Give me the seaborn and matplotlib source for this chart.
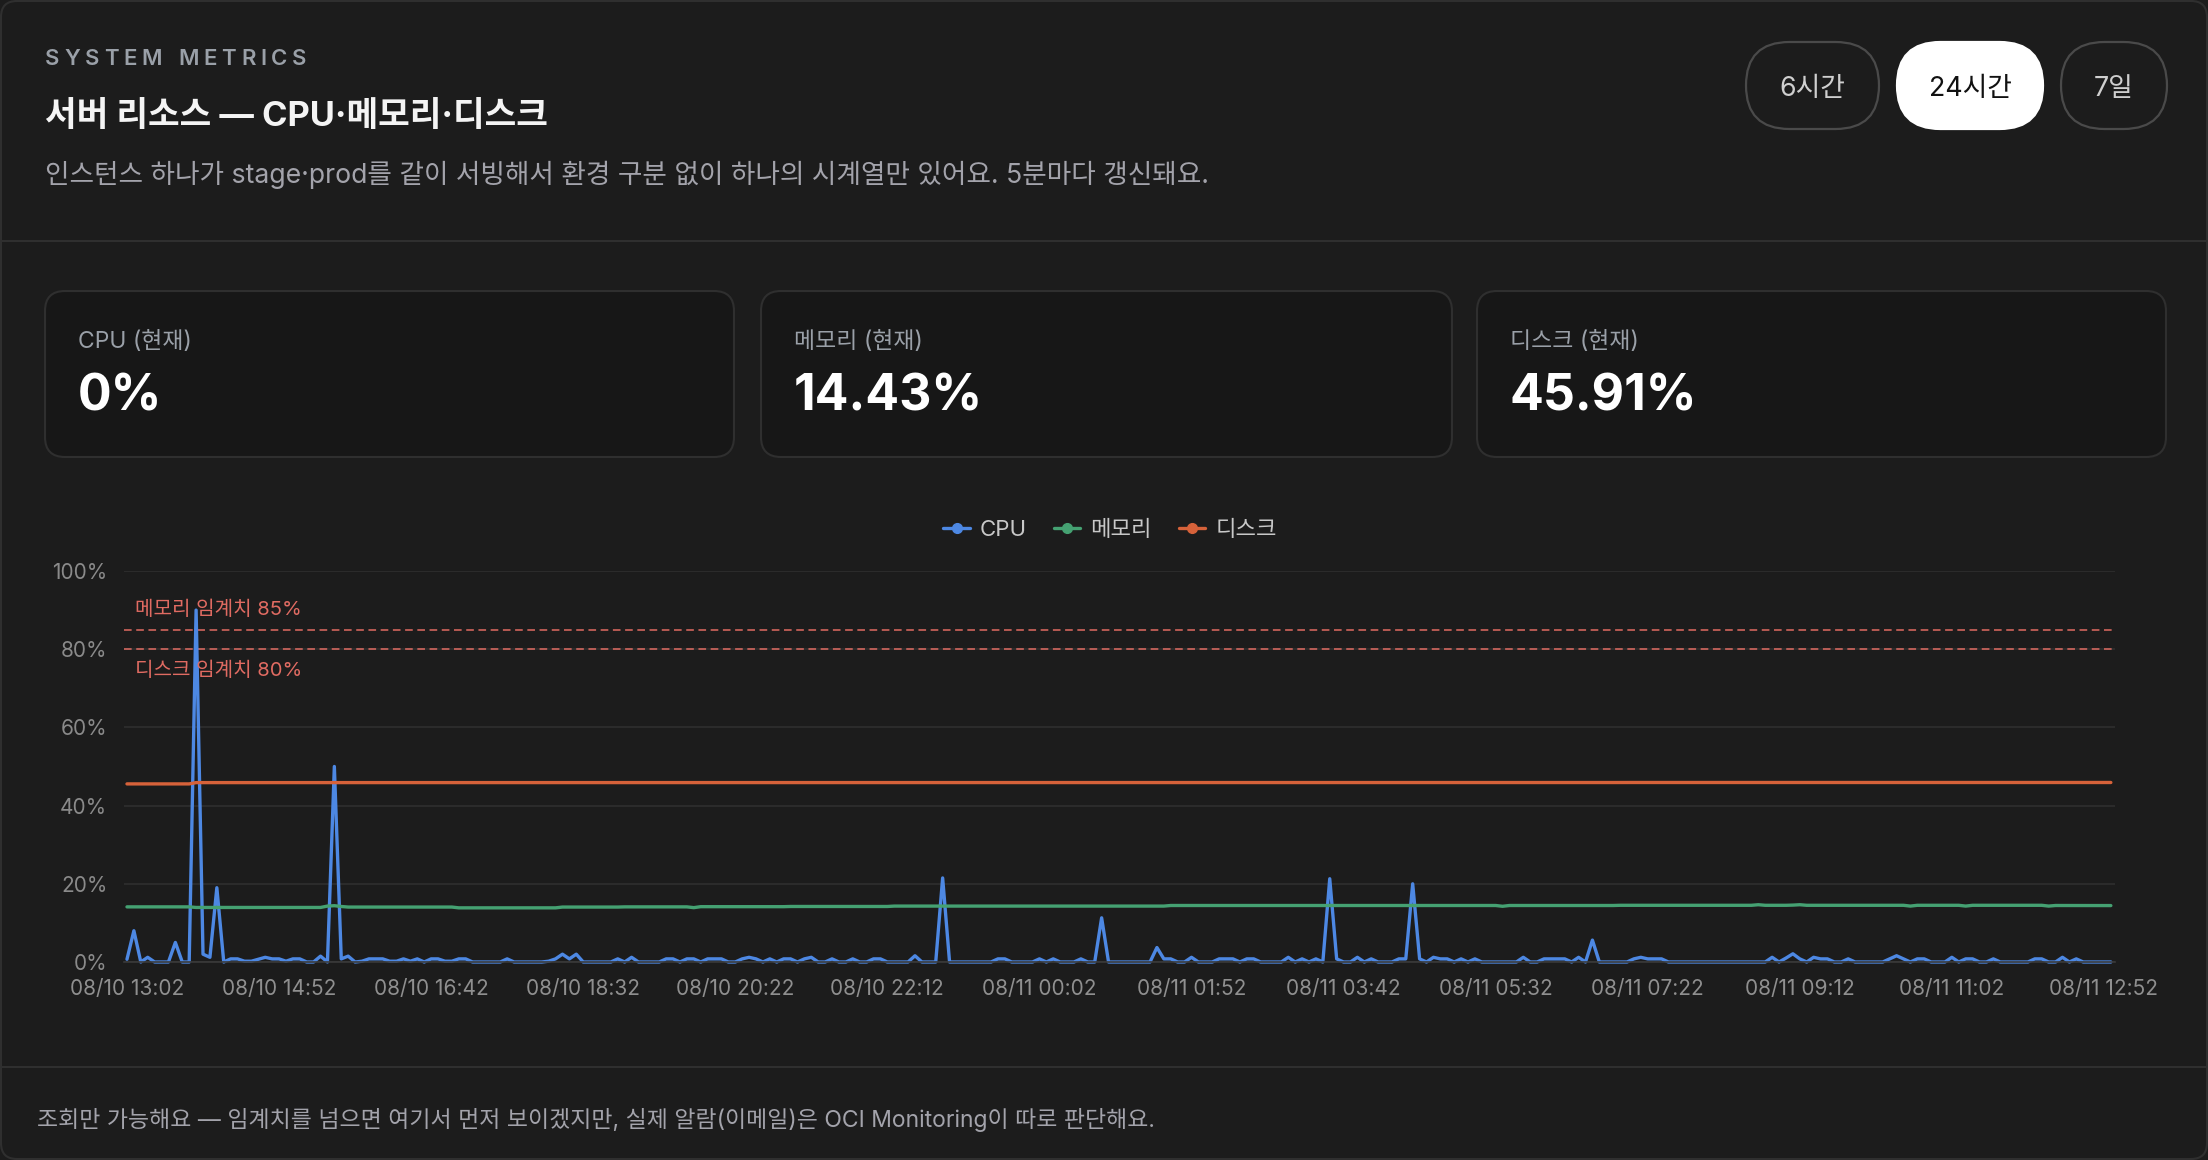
import matplotlib
matplotlib.use("Agg")
import matplotlib.pyplot as plt
from matplotlib.patches import FancyBboxPatch
from matplotlib.lines import Line2D
import pandas as pd
import seaborn as sns

W, H = 2208, 1160
BG = "#1c1c1c"
CARD_BG = "#171717"
EDGE = "#2f2f2f"

SERIES = ["CPU", "메모리", "디스크"]
COLORS = {"CPU": "#4d88e3", "메모리": "#45a172", "디스크": "#d6623a"}

X_TICKS = [0, 22, 44, 66, 88, 110, 132, 154, 176, 198, 220, 242, 264, 286]
X_LABELS = ["08/10 13:02", "08/10 14:52", "08/10 16:42", "08/10 18:32", "08/10 20:22",
            "08/10 22:12", "08/11 00:02", "08/11 01:52", "08/11 03:42", "08/11 05:32",
            "08/11 07:22", "08/11 09:12", "08/11 11:02", "08/11 12:52"]
Y_TICKS = [0, 20, 40, 60, 80, 100]
Y_LABELS = ["0%", "20%", "40%", "60%", "80%", "100%"]

THRESHOLDS = [85, 80]
THRESHOLD_LABELS = ["메모리 임계치 85%", "디스크 임계치 80%"]

CARD_LABELS = ["CPU (현재)", "메모리 (현재)", "디스크 (현재)"]
CARD_VALUES = ["0%", "14.43%", "45.91%"]
RANGES = ["6시간", "24시간", "7일"]

# 5-minute samples, 08/10 13:02 -> 08/11 12:57
cpu = [
    0.7, 8.0, 0, 1.2, 0, 0, 0, 5.0, 0, 0, 90, 2.0,
    1.2, 19.0, 0, 0.8, 0.8, 0.2, 0.2, 0.7, 1.2, 0.8, 0.8, 0.2,
    0.8, 0.8, 0, 0, 1.5, 0, 50, 0.8, 1.5, 0, 0.2, 0.8,
    0.8, 0.8, 0.2, 0.2, 0.8, 0.2, 0.8, 0, 0.8, 0.8, 0.2, 0.2,
    0.8, 0.8, 0, 0, 0, 0, 0, 0.8, 0, 0, 0, 0,
    0, 0.2, 0.8, 2.0, 0.8, 2.0, 0, 0, 0, 0, 0, 0.8,
    0, 1.2, 0, 0, 0, 0, 0.8, 0.8, 0, 0.8, 0.8, 0,
    0.8, 0.8, 0.8, 0, 0, 0.8, 1.2, 0.8, 0, 0.8, 0, 0.8,
    0.8, 0, 0.8, 1.2, 0, 0, 0.8, 0, 0, 0.8, 0, 0,
    0.8, 0.8, 0, 0, 0, 0, 1.6, 0, 0, 0, 21.5, 0,
    0, 0, 0, 0, 0, 0, 0.8, 0.8, 0, 0, 0, 0,
    0.8, 0, 0.8, 0, 0, 0, 0.8, 0, 0, 11.3, 0, 0,
    0, 0, 0, 0, 0, 3.7, 0.8, 0.8, 0, 0, 1.2, 0,
    0, 0, 0.8, 0.8, 0.8, 0, 0.8, 0.8, 0, 0, 0, 0,
    1.2, 0, 0.8, 0, 0.8, 0, 21.3, 0.8, 0, 0, 1.2, 0,
    0.8, 0, 0, 0, 0.8, 0.8, 20.0, 0.8, 0, 1.2, 0.8, 0.8,
    0, 0.8, 0, 0.8, 0, 0, 0, 0, 0, 0, 1.2, 0,
    0, 0.8, 0.8, 0.8, 0.8, 0, 1.2, 0, 5.6, 0, 0, 0,
    0, 0, 0.8, 1.2, 0.8, 0.8, 0.8, 0, 0, 0, 0, 0,
    0, 0, 0, 0, 0, 0, 0, 0, 0, 0, 1.2, 0,
    1.0, 2.1, 0.8, 0, 1.2, 0.8, 0.8, 0, 0, 0.8, 0, 0,
    0, 0, 0, 0.8, 1.6, 0.8, 0, 0.8, 0.8, 0, 0, 0,
    1.2, 0, 0.8, 0.8, 0, 0, 0.8, 0, 0, 0, 0, 0,
    0.8, 0.8, 0, 0, 1.2, 0, 0.8, 0, 0, 0, 0, 0,
]

memory = [
    14.1, 14.1, 14.1, 14.1, 14.1, 14.1, 14.1, 14.1, 14.1, 14.1, 13.95, 13.95,
    13.95, 13.95, 13.95, 13.95, 13.95, 13.95, 13.95, 13.95, 13.95, 13.95, 13.95, 13.95,
    13.95, 13.95, 13.95, 13.95, 13.95, 14.3, 14.4, 14.2, 14.05, 14.05, 14.05, 14.05,
    14.05, 14.05, 14.05, 14.05, 14.05, 14.05, 14.05, 14.05, 14.05, 14.05, 14.05, 14.05,
    13.85, 13.85, 13.85, 13.85, 13.85, 13.85, 13.85, 13.85, 13.85, 13.85, 13.85, 13.85,
    13.85, 13.85, 13.85, 14.05, 14.05, 14.05, 14.05, 14.05, 14.05, 14.05, 14.05, 14.05,
    14.1, 14.1, 14.1, 14.1, 14.1, 14.1, 14.1, 14.1, 14.1, 14.1, 13.9, 14.15,
    14.15, 14.15, 14.15, 14.15, 14.15, 14.15, 14.15, 14.15, 14.15, 14.15, 14.15, 14.15,
    14.2, 14.2, 14.2, 14.2, 14.2, 14.2, 14.2, 14.2, 14.2, 14.2, 14.2, 14.2,
    14.2, 14.2, 14.2, 14.3, 14.3, 14.3, 14.3, 14.3, 14.3, 14.3, 14.3, 14.3,
    14.3, 14.3, 14.3, 14.3, 14.3, 14.3, 14.3, 14.3, 14.3, 14.3, 14.3, 14.3,
    14.3, 14.3, 14.3, 14.3, 14.3, 14.3, 14.3, 14.3, 14.3, 14.3, 14.3, 14.3,
    14.3, 14.3, 14.3, 14.3, 14.3, 14.3, 14.3, 14.45, 14.45, 14.45, 14.45, 14.45,
    14.45, 14.45, 14.45, 14.45, 14.45, 14.45, 14.45, 14.45, 14.45, 14.45, 14.45, 14.45,
    14.45, 14.45, 14.45, 14.45, 14.45, 14.45, 14.45, 14.45, 14.45, 14.45, 14.45, 14.45,
    14.45, 14.45, 14.45, 14.45, 14.45, 14.45, 14.45, 14.45, 14.45, 14.45, 14.45, 14.45,
    14.45, 14.45, 14.45, 14.45, 14.45, 14.45, 14.45, 14.25, 14.45, 14.45, 14.45, 14.45,
    14.45, 14.45, 14.45, 14.45, 14.45, 14.45, 14.45, 14.45, 14.45, 14.45, 14.45, 14.45,
    14.5, 14.5, 14.5, 14.5, 14.5, 14.5, 14.5, 14.5, 14.5, 14.5, 14.5, 14.5,
    14.5, 14.5, 14.5, 14.5, 14.5, 14.5, 14.5, 14.5, 14.65, 14.5, 14.5, 14.5,
    14.5, 14.55, 14.65, 14.5, 14.5, 14.5, 14.5, 14.5, 14.5, 14.5, 14.5, 14.5,
    14.5, 14.5, 14.5, 14.5, 14.5, 14.5, 14.3, 14.5, 14.5, 14.5, 14.5, 14.5,
    14.5, 14.5, 14.3, 14.5, 14.5, 14.5, 14.5, 14.5, 14.5, 14.5, 14.5, 14.5,
    14.5, 14.5, 14.3, 14.45, 14.45, 14.45, 14.45, 14.45, 14.45, 14.45, 14.45, 14.43,
]

disk = [
    45.55, 45.55, 45.55, 45.55, 45.55, 45.55, 45.55, 45.55, 45.55, 45.55, 45.88, 45.88,
    45.88, 45.88, 45.88, 45.88, 45.88, 45.88, 45.88, 45.88, 45.88, 45.88, 45.88, 45.88,
    45.88, 45.88, 45.88, 45.88, 45.88, 45.88, 45.88, 45.88, 45.88, 45.88, 45.88, 45.88,
    45.88, 45.88, 45.88, 45.88, 45.88, 45.88, 45.88, 45.88, 45.88, 45.88, 45.88, 45.88,
    45.88, 45.88, 45.88, 45.88, 45.88, 45.88, 45.88, 45.88, 45.88, 45.88, 45.88, 45.88,
    45.88, 45.88, 45.88, 45.88, 45.88, 45.88, 45.88, 45.88, 45.88, 45.88, 45.88, 45.88,
    45.88, 45.88, 45.88, 45.88, 45.88, 45.88, 45.88, 45.88, 45.88, 45.88, 45.88, 45.88,
    45.88, 45.88, 45.88, 45.88, 45.88, 45.88, 45.88, 45.88, 45.88, 45.88, 45.88, 45.88,
    45.89, 45.89, 45.89, 45.89, 45.89, 45.89, 45.89, 45.89, 45.89, 45.89, 45.89, 45.89,
    45.89, 45.89, 45.89, 45.89, 45.89, 45.89, 45.89, 45.89, 45.89, 45.89, 45.89, 45.89,
    45.89, 45.89, 45.89, 45.89, 45.89, 45.89, 45.89, 45.89, 45.89, 45.89, 45.89, 45.89,
    45.89, 45.89, 45.89, 45.89, 45.89, 45.89, 45.89, 45.89, 45.89, 45.89, 45.89, 45.89,
    45.9, 45.9, 45.9, 45.9, 45.9, 45.9, 45.9, 45.9, 45.9, 45.9, 45.9, 45.9,
    45.9, 45.9, 45.9, 45.9, 45.9, 45.9, 45.9, 45.9, 45.9, 45.9, 45.9, 45.9,
    45.9, 45.9, 45.9, 45.9, 45.9, 45.9, 45.9, 45.9, 45.9, 45.9, 45.9, 45.9,
    45.9, 45.9, 45.9, 45.9, 45.9, 45.9, 45.9, 45.9, 45.9, 45.9, 45.9, 45.9,
    45.9, 45.9, 45.9, 45.9, 45.9, 45.9, 45.9, 45.9, 45.9, 45.9, 45.9, 45.9,
    45.9, 45.9, 45.9, 45.9, 45.9, 45.9, 45.9, 45.9, 45.9, 45.9, 45.9, 45.9,
    45.91, 45.91, 45.91, 45.91, 45.91, 45.91, 45.91, 45.91, 45.91, 45.91, 45.91, 45.91,
    45.91, 45.91, 45.91, 45.91, 45.91, 45.91, 45.91, 45.91, 45.91, 45.91, 45.91, 45.91,
    45.91, 45.91, 45.91, 45.91, 45.91, 45.91, 45.91, 45.91, 45.91, 45.91, 45.91, 45.91,
    45.91, 45.91, 45.91, 45.91, 45.91, 45.91, 45.91, 45.91, 45.91, 45.91, 45.91, 45.91,
    45.91, 45.91, 45.91, 45.91, 45.91, 45.91, 45.91, 45.91, 45.91, 45.91, 45.91, 45.91,
    45.91, 45.91, 45.91, 45.91, 45.91, 45.91, 45.91, 45.91, 45.91, 45.91, 45.91, 45.91,
]

sns.set_theme(style="dark", rc={"axes.facecolor": BG, "figure.facecolor": BG})
plt.rcParams["font.family"] = ["Inter", "Noto Sans CJK KR", "DejaVu Sans"]


def spaced_text(ax, x, y, s, spacing, **kw):
    renderer = ax.figure.canvas.get_renderer()
    for ch in s:
        if ch == " ":
            x += kw["fontsize"] * 0.28 / 0.72 + spacing
            continue
        t = ax.text(x, y, ch, **kw)
        x += t.get_window_extent(renderer).width + spacing


def rounded(ax, x0, y0, x1, y1, r, **kw):
    ax.add_patch(FancyBboxPatch((x0, y0), x1 - x0, y1 - y0,
                                boxstyle=f"round,pad=0,rounding_size={r}", **kw))


fig = plt.figure(figsize=(W / 100, H / 100), dpi=100, facecolor=BG)

# page layer in pixel coordinates
bg = fig.add_axes([0, 0, 1, 1], zorder=0)
bg.set_xlim(0, W)
bg.set_ylim(H, 0)
bg.axis("off")

rounded(bg, 1, 1, W - 1, H - 1, 16, facecolor=BG, edgecolor=EDGE, lw=1.5)
bg.plot([1, W - 1], [241, 241], color=EDGE, lw=1.5)
bg.plot([1, W - 1], [1067, 1067], color=EDGE, lw=1.5)

spaced_text(bg, 45, 59, "SYSTEM METRICS", 4.8, fontsize=16, color="#9aa0a8",
            fontweight="semibold", va="center", ha="left")
bg.text(45, 117, "서버 리소스 — CPU·메모리·디스크", fontsize=24.8, fontweight="bold",
        color="#f4f4f4", va="center", ha="left")
bg.text(45, 175, "인스턴스 하나가 stage·prod를 같이 서빙해서 환경 구분 없이 하나의 시계열만 있어요. 5분마다 갱신돼요.",
        fontsize=19.2, color="#a3a3ab", va="center", ha="left")

# range buttons
buttons = [(1746, 1879), (1897, 2043), (2061, 2167)]
for (x0, x1), label in zip(buttons, RANGES):
    active = label == "24시간"
    rounded(bg, x0, 42, x1, 129, 43.5,
            facecolor="#ffffff" if active else "none",
            edgecolor="#ffffff" if active else "#4a4a4a", lw=1.6)
    bg.text((x0 + x1) / 2, 89, label, fontsize=19.3,
            color="#111111" if active else "#cfcfcf", ha="center", va="center")

# summary cards
cards = [(45, 734), (761, 1452), (1477, 2166)]
for (x0, x1), label, value in zip(cards, CARD_LABELS, CARD_VALUES):
    rounded(bg, x0, 291, x1, 457, 20, facecolor=CARD_BG, edgecolor=EDGE, lw=1.5)
    bg.text(x0 + 33, 342, label, fontsize=16.5, color="#9aa0a8", va="center", ha="left")
    bg.text(x0 + 33, 397, value, fontsize=36, fontweight="bold", color="#ffffff",
            va="center", ha="left")

bg.text(37, 1120, "조회만 가능해요 — 임계치를 넘으면 여기서 먼저 보이겠지만, 실제 알람(이메일)은 OCI Monitoring이 따로 판단해요.",
        fontsize=16.5, color="#a3a3ab", va="center", ha="left")

# chart
frames = []
for name, vals in zip(SERIES, [cpu, memory, disk]):
    frames.append(pd.DataFrame({"idx": range(len(vals)), "value": vals, "metric": name}))
df = pd.concat(frames, ignore_index=True)

ax = fig.add_axes([124 / W, 1 - 962 / H, (2115 - 124) / W, (962 - 571) / H], zorder=1)
ax.set_facecolor("none")
sns.lineplot(data=df, x="idx", y="value", hue="metric", hue_order=SERIES, palette=COLORS,
             estimator=None, linewidth=2.4, legend=False, ax=ax, clip_on=False)

for val, label, ly in zip(THRESHOLDS, THRESHOLD_LABELS, [90.0, 74.4]):
    ax.axhline(val, color="#e06b62", lw=1.1, dashes=(5, 3), zorder=1)
    ax.text(0.0055, ly, label, transform=ax.get_yaxis_transform(), fontsize=14.5,
            color="#e06b62", va="center", ha="left")

ax.set_xlim(-0.43, 287.6)
ax.set_ylim(0, 100)
ax.set_xticks(X_TICKS)
ax.set_xticklabels(X_LABELS)
ax.set_yticks(Y_TICKS)
ax.set_yticklabels(Y_LABELS)
ax.set_xlabel("")
ax.set_ylabel("")
ax.grid(False)
ax.yaxis.grid(True, color="#303030", lw=1.1, zorder=0)
for side in ["top", "right", "left"]:
    ax.spines[side].set_visible(False)
ax.spines["bottom"].set_color("#3a3a3a")
ax.spines["bottom"].set_linewidth(1.2)
ax.tick_params(axis="x", length=0, pad=12, labelsize=15, labelcolor="#8f8f8f")
ax.tick_params(axis="y", length=0, pad=12, labelsize=15, labelcolor="#8a8a8a")

handles = [Line2D([0], [0], color=COLORS[s], lw=2.4, marker="o", markersize=7) for s in SERIES]
fig.legend(handles, SERIES, loc="center", bbox_to_anchor=(1110 / W, 1 - 530 / H), ncol=3,
           frameon=False, fontsize=16, labelcolor="#c8c8c8", handlelength=1.2,
           handletextpad=0.45, columnspacing=1.2)

fig.savefig("out.png", dpi=100, facecolor=BG)
